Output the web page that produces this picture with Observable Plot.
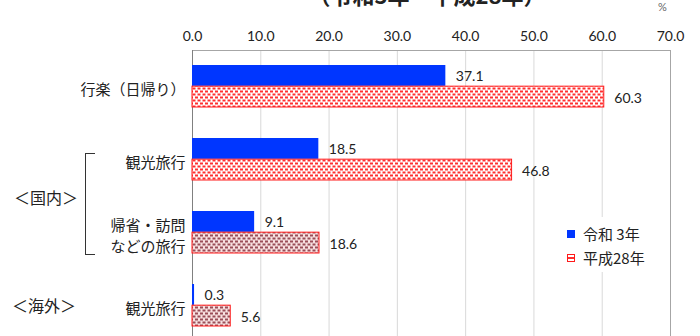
<!DOCTYPE html>
<html><head><meta charset="utf-8">
<script src="https://cdn.jsdelivr.net/npm/d3@7"></script>
<script src="https://cdn.jsdelivr.net/npm/@observablehq/plot@0.6"></script>
<style>
body{margin:0;background:#fff;}
#wrap{position:relative;width:700px;height:336px;overflow:hidden;font-family:"Noto Sans CJK JP",sans-serif;color:#222;}
#wrap svg.plot{position:absolute;left:0;top:0;}
.abs{position:absolute;white-space:nowrap;}
#title{top:-21px;left:0;width:854px;text-align:center;font-size:22px;font-weight:bold;line-height:30px;}
#pct{left:658px;top:0px;font-size:11px;color:#666;font-family:Lato,sans-serif;}
.grp{font-size:16px;line-height:20px;}
#bracket{left:85px;top:153px;width:10px;height:102px;border:1px solid #333;border-right:none;box-sizing:border-box;}
#legend{left:557px;top:217px;width:100px;height:55px;background:#fff;}
.li{position:absolute;left:10px;font-size:15px;line-height:18px;display:flex;align-items:center;}
.sw{width:8px;height:8px;margin-right:8px;box-sizing:border-box;}
g[aria-label="category labels"] text{letter-spacing:1px;font-feature-settings:"palt";}
</style></head><body>
<svg width="0" height="0" style="position:absolute">
 <defs>
  <pattern id="p1" width="5" height="6" patternUnits="userSpaceOnUse">
   <rect width="5" height="6" fill="#ffffff"/>
   <rect x="0" y="0.5" width="3" height="2" fill="#ff2f2f"/>
   <rect x="2.5" y="3.5" width="3" height="2" fill="#ff2f2f"/>
   <rect x="-2.5" y="3.5" width="3" height="2" fill="#ff2f2f"/>
  </pattern>
  <pattern id="p2" width="5" height="6" patternUnits="userSpaceOnUse">
   <rect width="5" height="6" fill="#f7e0e0"/>
   <rect x="0" y="0.5" width="3" height="2" fill="#9a4d57"/>
   <rect x="2.5" y="3.5" width="3" height="2" fill="#9a4d57"/>
   <rect x="-2.5" y="3.5" width="3" height="2" fill="#9a4d57"/>
  </pattern>
 </defs>
</svg>
<div id="wrap">
 <div id="title" class="abs">（令和3年・平成28年）</div>
 <div id="pct" class="abs">%</div>
 <div id="bracket" class="abs"></div>
</div>
<script>
const keys = ["k1", "k2", "k3", "k4"];
const labels = ["行楽（日帰り）", "観光旅行", "帰省・訪問\nなどの旅行", "観光旅行"];
const seriesNames = ["令和 3年", "平成28年"];
const reiwa3 = [37.1, 18.5, 9.1, 0.3];
const heisei28 = [60.3, 46.8, 18.6, 5.6];
const xTicks = [0, 10, 20, 30, 40, 50, 60, 70];
const groups = ["＜国内＞", "＜海外＞"];

const rows = keys.map((k, i) => ({key: k, label: labels[i], r3: reiwa3[i], h28: heisei28[i], idx: i}));

const W = 700, H = 336, mT = 50, mB = -6, pIn = 0.42, pOut = 0.21;
const step = (H - mB - mT) / (keys.length - pIn + 2 * pOut);
const bw = step * (1 - pIn);
const half = bw / 2;
const numFont = "Lato, 'Noto Sans', sans-serif";
const jpFont = "'Noto Sans CJK JP', sans-serif";

const chart = Plot.plot({
  width: W, height: H,
  marginLeft: 192, marginRight: 30, marginTop: mT, marginBottom: mB,
  style: {fontFamily: numFont, fontSize: "14px", color: "#222", background: "transparent"},
  x: {domain: [0, 70], axis: "top", ticks: xTicks, tickFormat: d => d.toFixed(1), tickSize: 0, tickPadding: 10, label: null},
  y: {domain: keys, paddingInner: pIn, paddingOuter: pOut, axis: null},
  marks: [
    Plot.ruleX(xTicks.slice(1, -1), {stroke: "#d9d9d9"}),
    Plot.frame({stroke: "#a6a6a6"}),
    Plot.ruleX([0], {stroke: "#808080"}),
    Plot.barX(rows, {x: "r3", y: "key", fill: "#0036ff", insetBottom: half}),
    Plot.barX(rows, {x: "h28", y: "key", fill: d => d.idx < 2 ? "url(#p1)" : "url(#p2)", stroke: "#ff1a1a", strokeWidth: 1, insetTop: half}),
    Plot.text(rows, {x: "r3", y: "key", text: d => d.r3.toFixed(1), dx: 10, dy: -half / 2 + 1, textAnchor: "start", fill: "#222", fontFamily: numFont, fontSize: 14}),
    Plot.text(rows, {x: "h28", y: "key", text: d => d.h28.toFixed(1), dx: 10, dy: half / 2 + 1, textAnchor: "start", fill: "#222", fontFamily: numFont, fontSize: 14}),
    Plot.text(rows, {y: "key", text: "label", frameAnchor: "left", dx: -7, dy: 2, textAnchor: "end", lineHeight: 1.4, fill: "#222", fontFamily: jpFont, fontSize: 15, ariaLabel: "category labels"})
  ]
});
chart.classList.add("plot");
const wrap = document.getElementById("wrap");
wrap.insertBefore(chart, wrap.firstChild);

// group labels
const gPos = [[14, 187], [12, 295]];
groups.forEach((g, i) => {
  const d = document.createElement("div");
  d.className = "abs grp";
  d.style.left = gPos[i][0] + "px";
  d.style.top = gPos[i][1] + "px";
  d.textContent = g;
  wrap.appendChild(d);
});

// legend
const lg = document.createElement("div");
lg.id = "legend"; lg.className = "abs";
const swStyles = ["background:#0036ff;", "border:1px solid #ff1a1a;background-image:repeating-linear-gradient(0deg,#fff 0 2px,#ff3030 2px 4px);"];
seriesNames.forEach((s, i) => {
  const it = document.createElement("div");
  it.className = "li";
  it.style.top = (8 + i * 24) + "px";
  const sw = document.createElement("span");
  sw.className = "sw";
  sw.setAttribute("style", swStyles[i]);
  const t = document.createElement("span");
  t.textContent = s;
  it.appendChild(sw); it.appendChild(t);
  lg.appendChild(it);
});
wrap.appendChild(lg);
</script>
</body></html>
